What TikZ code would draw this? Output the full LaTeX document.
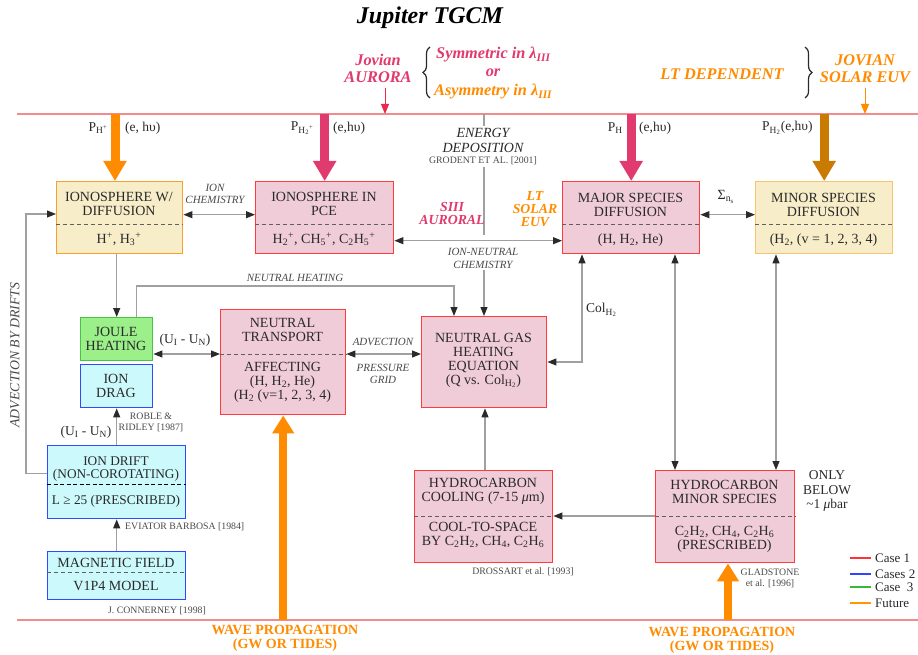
\documentclass[tikz,border=0pt]{standalone}
\usepackage{fontspec}
\setmainfont{Liberation Serif}
\usetikzlibrary{arrows.meta,decorations.pathreplacing}
\definecolor{cOr}{HTML}{FF8C00}
\definecolor{cPk}{HTML}{E03A6E}
\definecolor{cBr}{HTML}{C97A00}
\definecolor{fillPk}{HTML}{F0CCD8}
\definecolor{bdRd}{HTML}{FF3B3B}
\definecolor{fillYl}{HTML}{F8EDC9}
\definecolor{bdOr}{HTML}{F7A02A}
\definecolor{bdOrL}{HTML}{F8C46E}
\definecolor{fillGn}{HTML}{9BF08A}
\definecolor{bdGn}{HTML}{47C447}
\definecolor{fillCy}{HTML}{CCFAFC}
\definecolor{bdBl}{HTML}{2E4BFF}
\definecolor{lnRd}{HTML}{F28B8B}
\definecolor{gLine}{HTML}{A0A0A0}
\definecolor{tk}{HTML}{2A2A2A}
\definecolor{lgRd}{HTML}{FF3333}
\definecolor{lgBl}{HTML}{3344FF}
\definecolor{lgGn}{HTML}{33BB33}
\definecolor{lgOr}{HTML}{FF9900}
\tikzset{
  bx/.style={draw, line width=1.4pt, anchor=north west, inner sep=0pt},
  pinkbx/.style={bx, draw=bdRd, fill=fillPk},
  yelbx/.style={bx, draw=bdOr, fill=fillYl},
  yelbxl/.style={bx, draw=bdOrL, fill=fillYl},
  grnbx/.style={bx, draw=bdGn, fill=fillGn},
  cyabx/.style={bx, draw=bdBl, fill=fillCy},
  dsh/.style={draw=gray!75!black, line width=1pt, dash pattern=on 4pt off 3pt},
  dshk/.style={draw=black, line width=1pt, dash pattern=on 4pt off 2.5pt},
  bt/.style={font=\fontsize{14}{13.9}\selectfont, text=tk, align=center, inner sep=0pt},
  bts/.style={font=\fontsize{13.3}{13.9}\selectfont, text=tk, align=center, inner sep=0pt},
  it/.style={font=\fontsize{11}{12.5}\selectfont\itshape, text=tk!85, align=center, inner sep=0pt},
  cite/.style={font=\fontsize{9.8}{11}\selectfont, text=tk!85, align=center, inner sep=0pt},
  lab/.style={font=\fontsize{13.5}{14.5}\selectfont, text=tk, inner sep=0pt, align=center},
  leg/.style={font=\fontsize{13}{14}\selectfont, text=tk, inner sep=0pt, anchor=west},
  big/.style={font=\fontsize{16.3}{17}\selectfont\bfseries\itshape, inner sep=0pt, align=center},
  mid/.style={font=\fontsize{13.8}{13}\selectfont\bfseries\itshape, inner sep=0pt, align=center},
  conn/.style={draw=gLine, line width=1.1pt, -{Triangle[length=9pt,width=7pt,color=tk]}},
  dconn/.style={draw=gLine, line width=1.1pt, {Triangle[length=9pt,width=7pt,color=tk]}-{Triangle[length=9pt,width=7pt,color=tk]}},
  gl/.style={draw=gLine, line width=1.1pt},
  fat/.style={line width=9pt, -{Triangle[length=20pt,width=22pt]}},
  fatb/.style={line width=8pt, -{Triangle[length=18pt,width=21pt]}},
  thinarr/.style={line width=0.9pt, -{Triangle[length=10pt,width=8pt]}},
}
\begin{document}
\begin{tikzpicture}[x=1pt,y=-1pt]
\useasboundingbox[fill=white] (0,0) rectangle (918,655);

% reference lines
\coordinate (ytop) at (0,114);
\coordinate (ybot) at (0,620);
\coordinate (topL) at (17,114);
\coordinate (topR) at (918,114);
\coordinate (botL) at (17,620);
\coordinate (botR) at (918,620);
\draw[lnRd, line width=1.2pt] (topL) -- (topR);
\draw[lnRd, line width=1.2pt] (botL) -- (botR);

% title and top labels
\node (title) at (430,18) {\fontsize{24}{26}\selectfont\bfseries\itshape Jupiter TGCM};
\node[big, text=cPk] (jaur) at (378,68.5) {Jovian\\AURORA};
\draw[decorate, decoration={brace, amplitude=7pt}, line width=1.2pt, tk] (430,98) -- (430,47);
\node[big, text=cPk, anchor=west] (sym) at (436,55) {Symmetric in λ\textsubscript{III}};
\node[big, text=cPk] (or) at (493,73) {or};
\node[big, text=cOr, anchor=west] (asym) at (434,92) {Asymmetry in λ\textsubscript{III}};
\node[big, text=cOr] (ltdep) at (722,74) {LT DEPENDENT};
\draw[decorate, decoration={brace, amplitude=7pt}, line width=1.2pt, tk] (805,47) -- (805,98);
\node[big, text=cOr] (jeuv) at (865,68.5) {JOVIAN\\SOLAR EUV};
\coordinate (aurarr) at (385,88);
\draw[thinarr, draw=cPk!70!red, fill=cPk!70!red] (aurarr) -- (aurarr |- ytop);
\coordinate (euvarr) at (865,88);
\draw[thinarr, draw=cOr, fill=cOr] (euvarr) -- (euvarr |- ytop);

% boxes
\node[yelbx, minimum width=126pt, minimum height=72pt] (ionw) at (56,181) {};
\node[pinkbx, minimum width=138pt, minimum height=72pt] (pce) at (255,181) {};
\node[pinkbx, minimum width=137pt, minimum height=72pt] (major) at (562,181) {};
\node[yelbxl, minimum width=137pt, minimum height=72pt] (minor) at (755,181) {};
\node[grnbx, minimum width=72pt, minimum height=43pt] (joule) at (80,317) {};
\node[cyabx, minimum width=72pt, minimum height=43pt] (drag) at (80,364) {};
\node[pinkbx, minimum width=125pt, minimum height=105pt] (ntrans) at (220,309) {};
\node[pinkbx, minimum width=125pt, minimum height=91pt] (ngas) at (421,316) {};
\node[pinkbx, minimum width=138pt, minimum height=92pt] (hccool) at (414,470) {};
\node[pinkbx, minimum width=139pt, minimum height=92pt] (hcminor) at (655,470) {};
\node[cyabx, minimum width=138pt, minimum height=73pt] (drift) at (47,445) {};
\node[cyabx, minimum width=138pt, minimum height=48pt] (mag) at (47,551) {};

% dashed dividers
\coordinate (yd1) at (0,225);
\coordinate (ntdash) at (0,354);
\coordinate (hcdash) at (0,516);
\coordinate (drdash) at (0,484);
\coordinate (mgdash) at (0,572);
\draw[dsh] (ionw.west |- yd1) -- (ionw.east |- yd1);
\draw[dsh] (pce.west |- yd1) -- (pce.east |- yd1);
\draw[dsh] (major.west |- yd1) -- (major.east |- yd1);
\draw[dsh] (minor.west |- yd1) -- (minor.east |- yd1);
\draw[dsh] (ntrans.west |- ntdash) -- (ntrans.east |- ntdash);
\draw[dsh] (hccool.west |- hcdash) -- (hccool.east |- hcdash);
\draw[dsh] (hcminor.west |- hcdash) -- (hcminor.east |- hcdash);
\draw[dshk] (drift.west |- drdash) -- (drift.east |- drdash);
\draw[dsh] (mag.west |- mgdash) -- (mag.east |- mgdash);

% box texts
\node[bt] (t1a) at (119,203.5) {IONOSPHERE W/\\DIFFUSION};
\node[bt] (t1b) at (119,239) {H\textsuperscript{+}, H\textsubscript{3}\textsuperscript{+}};
\node[bt] (t2a) at (324,203.5) {IONOSPHERE IN\\PCE};
\node[bt] (t2b) at (324,239) {H\textsubscript{2}\textsuperscript{+}, CH\textsubscript{5}\textsuperscript{+}, C\textsubscript{2}H\textsubscript{5}\textsuperscript{+}};
\node[bt] (t3a) at (630.5,204.5) {MAJOR SPECIES\\DIFFUSION};
\node[bt] (t3b) at (630.5,240) {(H, H\textsubscript{2}, He)};
\node[bt] (t4a) at (823.5,204.5) {MINOR SPECIES\\DIFFUSION};
\node[bt] (t4b) at (823.5,240) {(H\textsubscript{2}, (v = 1, 2, 3, 4)};
\node[bt] (t5) at (116,338.5) {JOULE\\HEATING};
\node[bt] (t6) at (116,385.5) {ION\\DRAG};
\node[bt] (t7a) at (282.5,330) {NEUTRAL\\TRANSPORT};
\node[bt] (t7b) at (282.5,382) {AFFECTING\\(H, H\textsubscript{2}, He)\\(H\textsubscript{2} (v=1, 2, 3, 4)};
\node[bt] (t8) at (483.5,360.5) {NEUTRAL GAS\\HEATING\\EQUATION\\(Q vs. Col\textsubscript{H\textsubscript{2}})};
\node[bt] (t9a) at (483,491) {HYDROCARBON\\COOLING (7-15 \textit{μ}m)};
\node[bt] (t9b) at (483,535) {COOL-TO-SPACE\\BY C\textsubscript{2}H\textsubscript{2}, CH\textsubscript{4}, C\textsubscript{2}H\textsubscript{6}};
\node[bt] (t10a) at (724.5,492) {HYDROCARBON\\MINOR SPECIES};
\node[bt] (t10b) at (724.5,539) {C\textsubscript{2}H\textsubscript{2}, CH\textsubscript{4}, C\textsubscript{2}H\textsubscript{6}\\(PRESCRIBED)};
\node[bts] (t11a) at (116,469) {ION DRIFT\\(NON-COROTATING)};
\node[bts] (t11b) at (116,501) {L ≥ 25 (PRESCRIBED)};
\node[bt] (t12a) at (116,562.5) {MAGNETIC FIELD};
\node[bt] (t12b) at (116,586) {V1P4 MODEL};

% thick input arrows
\coordinate (phx) at (115,114);
\draw[fat, cOr] (phx) -- (phx |- ionw.north);
\draw[fat, cPk] (pce.north |- ytop) -- (pce.north);
\draw[fat, cPk] (major.north |- ytop) -- (major.north);
\draw[fat, cBr] (minor.north |- ytop) -- (minor.north);
\draw[fatb, cOr] (ntrans.south |- ybot) -- (ntrans.south);
\coordinate (hcx) at (728,620);
\draw[fatb, cOr] (hcx) -- (hcx |- hcminor.south);

% P labels
\node[lab, anchor=east] (ph1) at (108,128) {P\textsubscript{H\textsuperscript{+}}};
\node[lab, anchor=west] (eh1) at (125,128) {(e, hυ)};
\node[lab, anchor=east] (ph2) at (314,128) {P\textsubscript{H\textsubscript{2}\textsuperscript{+}}};
\node[lab, anchor=west] (eh2) at (333,128) {(e,hυ)};
\node[lab, anchor=east] (ph3) at (623,128) {P\textsubscript{H}};
\node[lab, anchor=west] (eh3) at (639,128) {(e,hυ)};
\node[lab, anchor=west] (ph4) at (762,128) {P\textsubscript{H\textsubscript{2}}(e,hυ)};

% energy deposition / ion-neutral chemistry
\node[font=\fontsize{14}{15}\selectfont\itshape, text=tk, align=center, inner sep=0pt] (edep) at (483,140.5) {ENERGY\\DEPOSITION};
\node[cite] (grodent) at (483,161) {GRODENT ET AL. [2001]};
\coordinate (edx) at (484,114);
\coordinate (edend) at (484,235);
\draw[gl] (edx) -- ++(0,12);
\draw[gl] (grodent.south -| edx) ++(0,2) -- (edend);
\node[it] (inchem) at (483,258.5) {ION-NEUTRAL\\CHEMISTRY};
\draw[conn] (inchem.south -| edx) ++(0,1) -- (edx |- ngas.north);
\node[mid, text=cPk] (siii) at (452,213.5) {SIII\\AURORAL};
\node[mid, text=cOr] (ltsol) at (535,209) {LT\\SOLAR\\EUV};

% connectors
\node[it] (ionchem) at (215,194) {ION\\CHEMISTRY};
\draw[dconn] ([yshift=3pt]ionw.east) -- ([yshift=3pt]pce.west);
\draw[dconn] ([yshift=-23pt]pce.east) -- ([yshift=-23pt]major.west);
\node[font=\fontsize{14}{15}\selectfont, text=tk, inner sep=0pt] (sigma) at (726,197) {Σ\textsubscript{n\textsubscript{s}}};
\draw[dconn] ([yshift=3pt]major.east) -- ([yshift=3pt]minor.west);

\draw[conn] (joule.north |- ionw.south) -- (joule.north);
\coordinate (nhc) at (454,286);
\node[it] (nheat) at (295,278) {NEUTRAL HEATING};
\draw[conn] ([xshift=20pt]joule.north) |- (nhc) -- (nhc |- ngas.north);

\node[lab] (uiun1) at (185,340) {(U\textsubscript{I} - U\textsubscript{N})};
\draw[dconn] (joule.east |- ntdash) -- (ntrans.west |- ntdash);
\node[it] (adv) at (383,342) {ADVECTION};
\node[it] (pgrid) at (383,374) {PRESSURE\\GRID};
\draw[dconn] (ntrans.east |- ntdash) -- (ngas.west |- ntdash);

\coordinate (colx) at (582,362);
\node[lab, anchor=west] (col) at (586,310) {Col\textsubscript{H\textsubscript{2}}};
\draw[dconn] (colx |- major.south) -- (colx) -- (ngas.east |- colx);

\coordinate (m2) at (675,0);
\coordinate (m3) at (776,0);
\draw[dconn] (m2 |- major.south) -- (m2 |- hcminor.north);
\draw[dconn] (m3 |- minor.south) -- (m3 |- hcminor.north);

\coordinate (hcx2) at (485,0);
\draw[conn] (hcx2 |- hccool.north) -- (hcx2 |- ngas.south);
\draw[conn] (hcminor.west |- hcdash) -- (hccool.east |- hcdash);

\draw[conn] (drift.north) -- (drag.south);
\draw[conn] (mag.north) -- (drift.south);
\coordinate (advc) at (26,214);
\draw[conn] ([yshift=8.5pt]drift.west) -| (advc) -- (advc -| ionw.west);
\node[font=\fontsize{13.8}{14}\selectfont\itshape, text=tk!85, inner sep=0pt, rotate=90] (advdr) at (15,355) {ADVECTION BY DRIFTS};

% citations and notes
\node[cite] (roble) at (151,422.5) {ROBLE \&\\RIDLEY [1987]};
\node[lab] (uiun2) at (86,432) {(U\textsubscript{I} - U\textsubscript{N})};
\node[cite, anchor=west] (eviator) at (125,527) {EVIATOR BARBOSA [1984]};
\node[cite] (conner) at (157,611) {J. CONNERNEY [1998]};
\node[cite] (dross) at (523,572) {DROSSART et al. [1993]};
\node[cite] (glad) at (770,578) {GLADSTONE\\et al. [1996]};
\node[lab] (only) at (827,491) {ONLY\\BELOW\\\textasciitilde1 \textit{μ}bar};
\node[font=\fontsize{14}{14}\selectfont\bfseries, text=cOr, align=center, inner sep=0pt] (wave1) at (285,638) {WAVE PROPAGATION\\(GW OR TIDES)};
\node[font=\fontsize{14}{14}\selectfont\bfseries, text=cOr, align=center, inner sep=0pt] (wave2) at (722,640) {WAVE PROPAGATION\\(GW OR TIDES)};

% legend
\coordinate (lg1) at (850,558);
\coordinate (lg2) at (850,574);
\coordinate (lg3) at (850,587);
\coordinate (lg4) at (850,603);
\draw[lgRd, line width=1.4pt] (lg1) -- ++(21,0);
\draw[lgBl, line width=1.4pt] (lg2) -- ++(21,0);
\draw[lgGn, line width=1.4pt] (lg3) -- ++(21,0);
\draw[lgOr, line width=1.4pt] (lg4) -- ++(21,0);
\node[leg] (lgt1) at (875,558) {Case 1};
\node[leg] (lgt2) at (875,574) {Cases 2};
\node[leg] (lgt3) at (875,587) {Case~~3};
\node[leg] (lgt4) at (875,603) {Future};
\end{tikzpicture}
\end{document}
